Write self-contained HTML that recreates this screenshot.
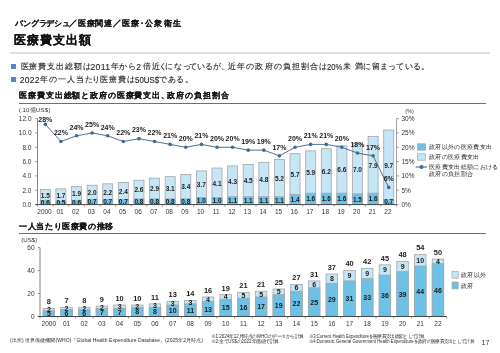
<!DOCTYPE html>
<html lang="ja"><head><meta charset="utf-8">
<style>
html,body{margin:0;padding:0;background:#fff;}
body{width:500px;height:353px;position:relative;overflow:hidden;font-family:"Liberation Sans",sans-serif;color:#222;}
.a{position:absolute;white-space:nowrap;line-height:1;}
svg{position:absolute;left:0;top:0;}
svg text{font-family:"Liberation Sans",sans-serif;fill:#222;}
.ax{font-size:6.5px;fill:#333;}
.bl{font-size:6.5px;font-weight:bold;fill:#1a1a1a;}
.bl2{font-size:7px;font-weight:bold;fill:#1a1a1a;}
.bl3{font-size:7.4px;font-weight:bold;fill:#1a1a1a;}
.pl{font-size:7px;font-weight:bold;fill:#1a1a1a;}
.lg{font-size:6.3px;fill:#1a1a1a;letter-spacing:0.34px;}
.fn{font-size:4.2px;fill:#444;}
</style></head><body><div id="wrap" style="position:absolute;left:0;top:0;width:500px;height:353px;will-change:transform;background:#fff;">
<div class="a" style="left:15.2px;top:20.3px;font-size:8px;letter-spacing:-0.2px;font-weight:bold;-webkit-text-stroke:0.05px #111;color:#111;">バングラデシュ</div>
<div class="a" style="left:78px;top:20.3px;font-size:8px;letter-spacing:0.5px;font-weight:bold;-webkit-text-stroke:0.05px #111;color:#111;">医療関連</div>
<div class="a" style="left:122.4px;top:20.3px;font-size:8px;letter-spacing:0.8px;font-weight:bold;-webkit-text-stroke:0.05px #111;color:#111;">医療</div>
<div class="a" style="left:137.6px;top:20.3px;font-size:8px;font-weight:bold;-webkit-text-stroke:0.05px #111;color:#111;">・</div>
<div class="a" style="left:144.8px;top:20.3px;font-size:8px;letter-spacing:1.4px;font-weight:bold;-webkit-text-stroke:0.05px #111;color:#111;">公衆衛生</div>
<div class="a" style="left:14.4px;top:34.2px;font-size:12.4px;letter-spacing:0.9px;font-weight:bold;-webkit-text-stroke:0.1px #111;color:#111;">医療費支出額</div>
<div class="a" style="left:10px;top:52px;width:480px;height:1.5px;background:#e0e0e0;"></div>
<div class="a" style="left:11px;top:64.3px;width:5px;height:5px;background:#5486ca;"></div>
<div class="a" style="left:11px;top:77px;width:5px;height:5px;background:#5486ca;"></div>
<div class="a" style="left:20.6px;top:61.6px;font-size:8.4px;letter-spacing:0.9px;color:#222;-webkit-text-stroke:0.1px #222;">医療費支出総額は</div>
<div class="a" style="left:110.6px;top:61.6px;font-size:8.4px;letter-spacing:0.9px;color:#222;-webkit-text-stroke:0.1px #222;">年から</div>
<div class="a" style="left:142.6px;top:61.6px;font-size:8.4px;letter-spacing:1.6px;color:#222;-webkit-text-stroke:0.1px #222;">倍近</div>
<div class="a" style="left:159.2px;top:61.6px;font-size:8.4px;color:#222;-webkit-text-stroke:0.1px #222;">く</div>
<div class="a" style="left:165px;top:61.6px;font-size:8.4px;letter-spacing:0.8px;color:#222;-webkit-text-stroke:0.1px #222;">になっ</div>
<div class="a" style="left:189.2px;top:61.6px;font-size:8.4px;letter-spacing:-0.2px;color:#222;-webkit-text-stroke:0.1px #222;">ているが</div>
<div class="a" style="left:221.2px;top:61.6px;font-size:8.4px;color:#222;-webkit-text-stroke:0.1px #222;">、</div>
<div class="a" style="left:228.2px;top:61.6px;font-size:8.4px;letter-spacing:1.1px;color:#222;-webkit-text-stroke:0.1px #222;">近年の政府の負担割合は</div>
<div class="a" style="left:343.4px;top:61.6px;font-size:8.4px;color:#222;-webkit-text-stroke:0.1px #222;">未</div>
<div class="a" style="left:354.6px;top:61.6px;font-size:8.4px;letter-spacing:0.7px;color:#222;-webkit-text-stroke:0.1px #222;">満に留</div>
<div class="a" style="left:380px;top:61.6px;font-size:8.4px;letter-spacing:0.2px;color:#222;-webkit-text-stroke:0.1px #222;">まっている</div>
<div class="a" style="left:420.6px;top:61.6px;font-size:8.4px;color:#222;-webkit-text-stroke:0.1px #222;">。</div>
<div class="a" style="left:90.4px;top:62.9px;font-size:8.6px;letter-spacing:0.4px;color:#222;-webkit-text-stroke:0.1px #222;">2011</div>
<div class="a" style="left:136.3px;top:62.9px;font-size:8.6px;color:#222;-webkit-text-stroke:0.1px #222;">2</div>
<div class="a" style="left:326.6px;top:62.9px;font-size:8.6px;transform:scaleX(0.89);transform-origin:0 0;color:#222;-webkit-text-stroke:0.1px #222;">20%</div>
<div class="a" style="left:40.4px;top:75.30000000000001px;font-size:8.4px;letter-spacing:1px;color:#222;-webkit-text-stroke:0.1px #222;">年の一人当た</div>
<div class="a" style="left:92.4px;top:75.30000000000001px;font-size:8.4px;color:#222;-webkit-text-stroke:0.1px #222;">り</div>
<div class="a" style="left:100.4px;top:75.30000000000001px;font-size:8.4px;letter-spacing:1px;color:#222;-webkit-text-stroke:0.1px #222;">医療費は</div>
<div class="a" style="left:159.2px;top:75.30000000000001px;font-size:8.4px;letter-spacing:0.6px;color:#222;-webkit-text-stroke:0.1px #222;">である</div>
<div class="a" style="left:184.8px;top:75.30000000000001px;font-size:8.4px;color:#222;-webkit-text-stroke:0.1px #222;">。</div>
<div class="a" style="left:19.8px;top:75.9px;font-size:8.6px;letter-spacing:0.2px;color:#222;-webkit-text-stroke:0.1px #222;">2022</div>
<div class="a" style="left:135px;top:75.9px;font-size:8.6px;transform:scaleX(0.92);transform-origin:0 0;color:#222;-webkit-text-stroke:0.1px #222;">50US$</div>
<div class="a" style="left:19.4px;top:91.4px;font-size:8.4px;letter-spacing:0.85px;font-weight:bold;-webkit-text-stroke:0.05px #111;color:#111;">医療費支出総額と政府の医療費支出</div>
<div class="a" style="left:161px;top:91.4px;font-size:8.4px;font-weight:bold;-webkit-text-stroke:0.05px #111;color:#111;">、</div>
<div class="a" style="left:166.6px;top:91.4px;font-size:8.4px;letter-spacing:1px;font-weight:bold;-webkit-text-stroke:0.05px #111;color:#111;">政府の負担割合</div>
<div class="a" style="left:19px;top:102.9px;width:467px;height:1.6px;background:#6e6e6e;"></div>
<div class="a" style="left:19.2px;top:222px;font-size:8.4px;letter-spacing:0.6px;font-weight:bold;-webkit-text-stroke:0.05px #111;color:#111;">一人当たり医療費の推移</div>
<div class="a" style="left:19.2px;top:232.8px;width:467.3px;height:1.6px;background:#6e6e6e;"></div>
<div class="a" style="left:18.8px;top:106.6px;font-size:6.2px;color:#333;">(</div>
<div class="a" style="left:22.4px;top:106.6px;font-size:6.2px;letter-spacing:0.2px;color:#333;">10億US$</div>
<div class="a" style="left:48.4px;top:106.6px;font-size:6.2px;color:#333;">)</div>
<svg width="500" height="353" viewBox="0 0 500 353">
<line x1="37.5" y1="118.6" x2="37.5" y2="204.6" stroke="#777" stroke-width="0.9"/>
<line x1="35.3" y1="204.60" x2="37.5" y2="204.60" stroke="#777" stroke-width="0.8"/>
<text x="31.5" y="206.90" class="ax" text-anchor="end">0.0</text>
<line x1="35.3" y1="190.27" x2="37.5" y2="190.27" stroke="#777" stroke-width="0.8"/>
<text x="31.5" y="192.57" class="ax" text-anchor="end">2.0</text>
<line x1="35.3" y1="175.93" x2="37.5" y2="175.93" stroke="#777" stroke-width="0.8"/>
<text x="31.5" y="178.23" class="ax" text-anchor="end">4.0</text>
<line x1="35.3" y1="161.60" x2="37.5" y2="161.60" stroke="#777" stroke-width="0.8"/>
<text x="31.5" y="163.90" class="ax" text-anchor="end">6.0</text>
<line x1="35.3" y1="147.27" x2="37.5" y2="147.27" stroke="#777" stroke-width="0.8"/>
<text x="31.5" y="149.57" class="ax" text-anchor="end">8.0</text>
<line x1="35.3" y1="132.93" x2="37.5" y2="132.93" stroke="#777" stroke-width="0.8"/>
<text x="31.5" y="135.23" class="ax" text-anchor="end">10.0</text>
<line x1="35.3" y1="118.60" x2="37.5" y2="118.60" stroke="#777" stroke-width="0.8"/>
<text x="31.5" y="120.90" class="ax" text-anchor="end">12.0</text>
<line x1="396.5" y1="118.6" x2="396.5" y2="204.6" stroke="#999" stroke-width="0.9"/>
<line x1="396.5" y1="204.60" x2="398.7" y2="204.60" stroke="#777" stroke-width="0.8"/>
<text x="401.5" y="206.90" class="ax">0%</text>
<line x1="396.5" y1="190.27" x2="398.7" y2="190.27" stroke="#777" stroke-width="0.8"/>
<text x="401.5" y="192.57" class="ax">5%</text>
<line x1="396.5" y1="175.93" x2="398.7" y2="175.93" stroke="#777" stroke-width="0.8"/>
<text x="401.5" y="178.23" class="ax">10%</text>
<line x1="396.5" y1="161.60" x2="398.7" y2="161.60" stroke="#777" stroke-width="0.8"/>
<text x="401.5" y="163.90" class="ax">15%</text>
<line x1="396.5" y1="147.27" x2="398.7" y2="147.27" stroke="#777" stroke-width="0.8"/>
<text x="401.5" y="149.57" class="ax">20%</text>
<line x1="396.5" y1="132.93" x2="398.7" y2="132.93" stroke="#777" stroke-width="0.8"/>
<text x="401.5" y="135.23" class="ax">25%</text>
<line x1="396.5" y1="118.60" x2="398.7" y2="118.60" stroke="#777" stroke-width="0.8"/>
<text x="401.5" y="120.90" class="ax">30%</text>
<text x="405.2" y="112.8" class="ax" style="font-size:5.5px">(%)</text>
<rect x="40.30" y="189.55" width="10" height="15.05" fill="#c6e6f5" stroke="#a6a6a6" stroke-width="0.8"/>
<rect x="40.30" y="200.30" width="10" height="4.30" fill="#6cc2e6" stroke="#a6a6a6" stroke-width="0.8"/>
<text x="45.30" y="197.72" class="bl" text-anchor="middle">1.5</text>
<text x="45.30" y="204.75" class="bl" text-anchor="middle">0.6</text>
<text x="44.50" y="213.6" class="ax" text-anchor="middle">2000</text>
<rect x="55.91" y="188.83" width="10" height="15.77" fill="#c6e6f5" stroke="#a6a6a6" stroke-width="0.8"/>
<rect x="55.91" y="201.02" width="10" height="3.58" fill="#6cc2e6" stroke="#a6a6a6" stroke-width="0.8"/>
<text x="60.91" y="197.72" class="bl" text-anchor="middle">1.7</text>
<text x="60.91" y="205.11" class="bl" text-anchor="middle">0.5</text>
<text x="60.11" y="213.6" class="ax" text-anchor="middle">01</text>
<rect x="71.52" y="186.68" width="10" height="17.92" fill="#c6e6f5" stroke="#a6a6a6" stroke-width="0.8"/>
<rect x="71.52" y="200.30" width="10" height="4.30" fill="#6cc2e6" stroke="#a6a6a6" stroke-width="0.8"/>
<text x="76.52" y="196.29" class="bl" text-anchor="middle">1.9</text>
<text x="76.52" y="204.75" class="bl" text-anchor="middle">0.6</text>
<text x="75.72" y="213.6" class="ax" text-anchor="middle">02</text>
<rect x="87.13" y="185.25" width="10" height="19.35" fill="#c6e6f5" stroke="#a6a6a6" stroke-width="0.8"/>
<rect x="87.13" y="199.58" width="10" height="5.02" fill="#6cc2e6" stroke="#a6a6a6" stroke-width="0.8"/>
<text x="92.13" y="195.22" class="bl" text-anchor="middle">2.0</text>
<text x="92.13" y="204.39" class="bl" text-anchor="middle">0.7</text>
<text x="91.33" y="213.6" class="ax" text-anchor="middle">03</text>
<rect x="102.74" y="183.82" width="10" height="20.78" fill="#c6e6f5" stroke="#a6a6a6" stroke-width="0.8"/>
<rect x="102.74" y="199.58" width="10" height="5.02" fill="#6cc2e6" stroke="#a6a6a6" stroke-width="0.8"/>
<text x="107.74" y="194.50" class="bl" text-anchor="middle">2.2</text>
<text x="107.74" y="204.39" class="bl" text-anchor="middle">0.7</text>
<text x="106.94" y="213.6" class="ax" text-anchor="middle">04</text>
<rect x="118.35" y="182.38" width="10" height="22.22" fill="#c6e6f5" stroke="#a6a6a6" stroke-width="0.8"/>
<rect x="118.35" y="199.58" width="10" height="5.02" fill="#6cc2e6" stroke="#a6a6a6" stroke-width="0.8"/>
<text x="123.35" y="193.78" class="bl" text-anchor="middle">2.4</text>
<text x="123.35" y="204.39" class="bl" text-anchor="middle">0.7</text>
<text x="122.55" y="213.6" class="ax" text-anchor="middle">05</text>
<rect x="133.96" y="180.23" width="10" height="24.37" fill="#c6e6f5" stroke="#a6a6a6" stroke-width="0.8"/>
<rect x="133.96" y="198.87" width="10" height="5.73" fill="#6cc2e6" stroke="#a6a6a6" stroke-width="0.8"/>
<text x="138.96" y="192.35" class="bl" text-anchor="middle">2.6</text>
<text x="138.96" y="204.03" class="bl" text-anchor="middle">0.8</text>
<text x="138.16" y="213.6" class="ax" text-anchor="middle">06</text>
<rect x="149.57" y="178.08" width="10" height="26.52" fill="#c6e6f5" stroke="#a6a6a6" stroke-width="0.8"/>
<rect x="149.57" y="198.87" width="10" height="5.73" fill="#6cc2e6" stroke="#a6a6a6" stroke-width="0.8"/>
<text x="154.57" y="191.28" class="bl" text-anchor="middle">2.9</text>
<text x="154.57" y="204.03" class="bl" text-anchor="middle">0.8</text>
<text x="153.77" y="213.6" class="ax" text-anchor="middle">07</text>
<rect x="165.17" y="176.65" width="10" height="27.95" fill="#c6e6f5" stroke="#a6a6a6" stroke-width="0.8"/>
<rect x="165.17" y="198.87" width="10" height="5.73" fill="#6cc2e6" stroke="#a6a6a6" stroke-width="0.8"/>
<text x="170.17" y="190.56" class="bl" text-anchor="middle">3.1</text>
<text x="170.17" y="204.03" class="bl" text-anchor="middle">0.8</text>
<text x="169.37" y="213.6" class="ax" text-anchor="middle">08</text>
<rect x="180.78" y="174.50" width="10" height="30.10" fill="#c6e6f5" stroke="#a6a6a6" stroke-width="0.8"/>
<rect x="180.78" y="198.87" width="10" height="5.73" fill="#6cc2e6" stroke="#a6a6a6" stroke-width="0.8"/>
<text x="185.78" y="189.48" class="bl" text-anchor="middle">3.4</text>
<text x="185.78" y="204.03" class="bl" text-anchor="middle">0.8</text>
<text x="184.98" y="213.6" class="ax" text-anchor="middle">09</text>
<rect x="196.39" y="170.92" width="10" height="33.68" fill="#c6e6f5" stroke="#a6a6a6" stroke-width="0.8"/>
<rect x="196.39" y="197.43" width="10" height="7.17" fill="#6cc2e6" stroke="#a6a6a6" stroke-width="0.8"/>
<text x="201.39" y="186.98" class="bl" text-anchor="middle">3.7</text>
<text x="201.39" y="203.32" class="bl" text-anchor="middle">1.0</text>
<text x="200.59" y="213.6" class="ax" text-anchor="middle">10</text>
<rect x="212.00" y="168.05" width="10" height="36.55" fill="#c6e6f5" stroke="#a6a6a6" stroke-width="0.8"/>
<rect x="212.00" y="197.43" width="10" height="7.17" fill="#6cc2e6" stroke="#a6a6a6" stroke-width="0.8"/>
<text x="217.00" y="185.54" class="bl" text-anchor="middle">4.1</text>
<text x="217.00" y="203.32" class="bl" text-anchor="middle">1.0</text>
<text x="216.20" y="213.6" class="ax" text-anchor="middle">11</text>
<rect x="227.61" y="165.90" width="10" height="38.70" fill="#c6e6f5" stroke="#a6a6a6" stroke-width="0.8"/>
<rect x="227.61" y="196.72" width="10" height="7.88" fill="#6cc2e6" stroke="#a6a6a6" stroke-width="0.8"/>
<text x="232.61" y="184.11" class="bl" text-anchor="middle">4.3</text>
<text x="232.61" y="202.96" class="bl" text-anchor="middle">1.1</text>
<text x="231.81" y="213.6" class="ax" text-anchor="middle">12</text>
<rect x="243.22" y="164.47" width="10" height="40.13" fill="#c6e6f5" stroke="#a6a6a6" stroke-width="0.8"/>
<rect x="243.22" y="196.72" width="10" height="7.88" fill="#6cc2e6" stroke="#a6a6a6" stroke-width="0.8"/>
<text x="248.22" y="183.39" class="bl" text-anchor="middle">4.5</text>
<text x="248.22" y="202.96" class="bl" text-anchor="middle">1.1</text>
<text x="247.42" y="213.6" class="ax" text-anchor="middle">13</text>
<rect x="258.83" y="162.32" width="10" height="42.28" fill="#c6e6f5" stroke="#a6a6a6" stroke-width="0.8"/>
<rect x="258.83" y="196.72" width="10" height="7.88" fill="#6cc2e6" stroke="#a6a6a6" stroke-width="0.8"/>
<text x="263.83" y="182.32" class="bl" text-anchor="middle">4.8</text>
<text x="263.83" y="202.96" class="bl" text-anchor="middle">1.1</text>
<text x="263.03" y="213.6" class="ax" text-anchor="middle">14</text>
<rect x="274.43" y="159.45" width="10" height="45.15" fill="#c6e6f5" stroke="#a6a6a6" stroke-width="0.8"/>
<rect x="274.43" y="196.72" width="10" height="7.88" fill="#6cc2e6" stroke="#a6a6a6" stroke-width="0.8"/>
<text x="279.43" y="180.88" class="bl" text-anchor="middle">5.2</text>
<text x="279.43" y="202.96" class="bl" text-anchor="middle">1.1</text>
<text x="278.63" y="213.6" class="ax" text-anchor="middle">15</text>
<rect x="290.04" y="153.72" width="10" height="50.88" fill="#c6e6f5" stroke="#a6a6a6" stroke-width="0.8"/>
<rect x="290.04" y="194.57" width="10" height="10.03" fill="#6cc2e6" stroke="#a6a6a6" stroke-width="0.8"/>
<text x="295.04" y="176.94" class="bl" text-anchor="middle">5.7</text>
<text x="295.04" y="201.88" class="bl" text-anchor="middle">1.4</text>
<text x="294.24" y="213.6" class="ax" text-anchor="middle">16</text>
<rect x="305.65" y="150.85" width="10" height="53.75" fill="#c6e6f5" stroke="#a6a6a6" stroke-width="0.8"/>
<rect x="305.65" y="193.13" width="10" height="11.47" fill="#6cc2e6" stroke="#a6a6a6" stroke-width="0.8"/>
<text x="310.65" y="174.79" class="bl" text-anchor="middle">5.9</text>
<text x="310.65" y="201.17" class="bl" text-anchor="middle">1.6</text>
<text x="309.85" y="213.6" class="ax" text-anchor="middle">17</text>
<rect x="321.26" y="148.70" width="10" height="55.90" fill="#c6e6f5" stroke="#a6a6a6" stroke-width="0.8"/>
<rect x="321.26" y="193.13" width="10" height="11.47" fill="#6cc2e6" stroke="#a6a6a6" stroke-width="0.8"/>
<text x="326.26" y="173.72" class="bl" text-anchor="middle">6.2</text>
<text x="326.26" y="201.17" class="bl" text-anchor="middle">1.6</text>
<text x="325.46" y="213.6" class="ax" text-anchor="middle">18</text>
<rect x="336.87" y="145.83" width="10" height="58.77" fill="#c6e6f5" stroke="#a6a6a6" stroke-width="0.8"/>
<rect x="336.87" y="193.13" width="10" height="11.47" fill="#6cc2e6" stroke="#a6a6a6" stroke-width="0.8"/>
<text x="341.87" y="172.28" class="bl" text-anchor="middle">6.6</text>
<text x="341.87" y="201.17" class="bl" text-anchor="middle">1.6</text>
<text x="341.07" y="213.6" class="ax" text-anchor="middle">19</text>
<rect x="352.48" y="143.68" width="10" height="60.92" fill="#c6e6f5" stroke="#a6a6a6" stroke-width="0.8"/>
<rect x="352.48" y="193.85" width="10" height="10.75" fill="#6cc2e6" stroke="#a6a6a6" stroke-width="0.8"/>
<text x="357.48" y="171.57" class="bl" text-anchor="middle">7.0</text>
<text x="357.48" y="201.53" class="bl" text-anchor="middle">1.5</text>
<text x="356.68" y="213.6" class="ax" text-anchor="middle">20</text>
<rect x="368.09" y="136.52" width="10" height="68.08" fill="#c6e6f5" stroke="#a6a6a6" stroke-width="0.8"/>
<rect x="368.09" y="193.13" width="10" height="11.47" fill="#6cc2e6" stroke="#a6a6a6" stroke-width="0.8"/>
<text x="373.09" y="167.62" class="bl" text-anchor="middle">7.9</text>
<text x="373.09" y="201.17" class="bl" text-anchor="middle">1.6</text>
<text x="372.29" y="213.6" class="ax" text-anchor="middle">21</text>
<rect x="383.70" y="130.07" width="10" height="74.53" fill="#c6e6f5" stroke="#a6a6a6" stroke-width="0.8"/>
<rect x="383.70" y="199.58" width="10" height="5.02" fill="#6cc2e6" stroke="#a6a6a6" stroke-width="0.8"/>
<text x="388.70" y="167.62" class="bl" text-anchor="middle">9.7</text>
<text x="388.70" y="204.39" class="bl" text-anchor="middle">0.7</text>
<text x="387.90" y="213.6" class="ax" text-anchor="middle">22</text>
<line x1="35.3" y1="204.6" x2="396.5" y2="204.6" stroke="#444" stroke-width="1"/>
<line x1="37.50" y1="204.6" x2="37.50" y2="206.6" stroke="#777" stroke-width="0.8"/>
<line x1="53.11" y1="204.6" x2="53.11" y2="206.6" stroke="#777" stroke-width="0.8"/>
<line x1="68.72" y1="204.6" x2="68.72" y2="206.6" stroke="#777" stroke-width="0.8"/>
<line x1="84.33" y1="204.6" x2="84.33" y2="206.6" stroke="#777" stroke-width="0.8"/>
<line x1="99.93" y1="204.6" x2="99.93" y2="206.6" stroke="#777" stroke-width="0.8"/>
<line x1="115.54" y1="204.6" x2="115.54" y2="206.6" stroke="#777" stroke-width="0.8"/>
<line x1="131.15" y1="204.6" x2="131.15" y2="206.6" stroke="#777" stroke-width="0.8"/>
<line x1="146.76" y1="204.6" x2="146.76" y2="206.6" stroke="#777" stroke-width="0.8"/>
<line x1="162.37" y1="204.6" x2="162.37" y2="206.6" stroke="#777" stroke-width="0.8"/>
<line x1="177.98" y1="204.6" x2="177.98" y2="206.6" stroke="#777" stroke-width="0.8"/>
<line x1="193.59" y1="204.6" x2="193.59" y2="206.6" stroke="#777" stroke-width="0.8"/>
<line x1="209.20" y1="204.6" x2="209.20" y2="206.6" stroke="#777" stroke-width="0.8"/>
<line x1="224.80" y1="204.6" x2="224.80" y2="206.6" stroke="#777" stroke-width="0.8"/>
<line x1="240.41" y1="204.6" x2="240.41" y2="206.6" stroke="#777" stroke-width="0.8"/>
<line x1="256.02" y1="204.6" x2="256.02" y2="206.6" stroke="#777" stroke-width="0.8"/>
<line x1="271.63" y1="204.6" x2="271.63" y2="206.6" stroke="#777" stroke-width="0.8"/>
<line x1="287.24" y1="204.6" x2="287.24" y2="206.6" stroke="#777" stroke-width="0.8"/>
<line x1="302.85" y1="204.6" x2="302.85" y2="206.6" stroke="#777" stroke-width="0.8"/>
<line x1="318.46" y1="204.6" x2="318.46" y2="206.6" stroke="#777" stroke-width="0.8"/>
<line x1="334.07" y1="204.6" x2="334.07" y2="206.6" stroke="#777" stroke-width="0.8"/>
<line x1="349.67" y1="204.6" x2="349.67" y2="206.6" stroke="#777" stroke-width="0.8"/>
<line x1="365.28" y1="204.6" x2="365.28" y2="206.6" stroke="#777" stroke-width="0.8"/>
<line x1="380.89" y1="204.6" x2="380.89" y2="206.6" stroke="#777" stroke-width="0.8"/>
<line x1="396.50" y1="204.6" x2="396.50" y2="206.6" stroke="#777" stroke-width="0.8"/>
<polyline points="45.30,124.33 60.91,141.53 76.52,135.80 92.13,132.93 107.74,135.80 123.35,141.53 138.96,138.67 154.57,141.53 170.17,144.40 185.78,147.27 201.39,144.40 217.00,147.27 232.61,147.27 248.22,150.13 263.83,150.13 279.43,155.87 295.04,147.27 310.65,144.40 326.26,144.40 341.87,147.27 357.48,153.00 373.09,155.87 388.70,187.40" fill="none" stroke="#3f6a92" stroke-width="0.95"/>
<circle cx="45.30" cy="124.33" r="1.8" fill="#3f6a92"/>
<text x="45.30" y="122.00" class="pl" text-anchor="middle">28%</text>
<circle cx="60.91" cy="141.53" r="1.8" fill="#3f6a92"/>
<text x="60.91" y="135.23" class="pl" text-anchor="middle">22%</text>
<circle cx="76.52" cy="135.80" r="1.8" fill="#3f6a92"/>
<text x="76.52" y="129.50" class="pl" text-anchor="middle">24%</text>
<circle cx="92.13" cy="132.93" r="1.8" fill="#3f6a92"/>
<text x="92.13" y="126.63" class="pl" text-anchor="middle">25%</text>
<circle cx="107.74" cy="135.80" r="1.8" fill="#3f6a92"/>
<text x="107.74" y="129.50" class="pl" text-anchor="middle">24%</text>
<circle cx="123.35" cy="141.53" r="1.8" fill="#3f6a92"/>
<text x="123.35" y="135.23" class="pl" text-anchor="middle">22%</text>
<circle cx="138.96" cy="138.67" r="1.8" fill="#3f6a92"/>
<text x="138.96" y="132.37" class="pl" text-anchor="middle">23%</text>
<circle cx="154.57" cy="141.53" r="1.8" fill="#3f6a92"/>
<text x="154.57" y="135.23" class="pl" text-anchor="middle">22%</text>
<circle cx="170.17" cy="144.40" r="1.8" fill="#3f6a92"/>
<text x="170.17" y="138.10" class="pl" text-anchor="middle">21%</text>
<circle cx="185.78" cy="147.27" r="1.8" fill="#3f6a92"/>
<text x="185.78" y="140.97" class="pl" text-anchor="middle">20%</text>
<circle cx="201.39" cy="144.40" r="1.8" fill="#3f6a92"/>
<text x="201.39" y="138.10" class="pl" text-anchor="middle">21%</text>
<circle cx="217.00" cy="147.27" r="1.8" fill="#3f6a92"/>
<text x="217.00" y="140.97" class="pl" text-anchor="middle">20%</text>
<circle cx="232.61" cy="147.27" r="1.8" fill="#3f6a92"/>
<text x="232.61" y="140.97" class="pl" text-anchor="middle">20%</text>
<circle cx="248.22" cy="150.13" r="1.8" fill="#3f6a92"/>
<text x="248.22" y="143.83" class="pl" text-anchor="middle">19%</text>
<circle cx="263.83" cy="150.13" r="1.8" fill="#3f6a92"/>
<text x="263.83" y="143.83" class="pl" text-anchor="middle">19%</text>
<circle cx="279.43" cy="155.87" r="1.8" fill="#3f6a92"/>
<text x="279.43" y="149.57" class="pl" text-anchor="middle">17%</text>
<circle cx="295.04" cy="147.27" r="1.8" fill="#3f6a92"/>
<text x="295.04" y="140.97" class="pl" text-anchor="middle">20%</text>
<circle cx="310.65" cy="144.40" r="1.8" fill="#3f6a92"/>
<text x="310.65" y="138.10" class="pl" text-anchor="middle">21%</text>
<circle cx="326.26" cy="144.40" r="1.8" fill="#3f6a92"/>
<text x="326.26" y="138.10" class="pl" text-anchor="middle">21%</text>
<circle cx="341.87" cy="147.27" r="1.8" fill="#3f6a92"/>
<text x="341.87" y="140.97" class="pl" text-anchor="middle">20%</text>
<circle cx="357.48" cy="153.00" r="1.8" fill="#3f6a92"/>
<text x="357.48" y="146.70" class="pl" text-anchor="middle">18%</text>
<circle cx="373.09" cy="155.87" r="1.8" fill="#3f6a92"/>
<text x="373.09" y="149.57" class="pl" text-anchor="middle">17%</text>
<circle cx="388.70" cy="187.40" r="1.8" fill="#3f6a92"/>
<text x="388.70" y="181.10" class="pl" text-anchor="middle">6%</text>
<rect x="417.5" y="143.8" width="8" height="6.4" fill="#6cc2e6" stroke="#a6a6a6" stroke-width="0.7"/>
<rect x="417.5" y="153.8" width="8" height="6.4" fill="#c6e6f5" stroke="#a6a6a6" stroke-width="0.7"/>
<line x1="415.6" y1="167" x2="427" y2="167" stroke="#3f6a92" stroke-width="1.1"/>
<circle cx="421.5" cy="167" r="2" fill="#3f6a92"/>
<text x="429" y="149.3" class="lg">政府以外の医療費支出</text>
<text x="429" y="159.3" class="lg">政府の医療費支出</text>
<text x="429" y="169.3" class="lg">医療費支出総額における</text>
<text x="429" y="176.3" class="lg">政府の負担割合</text>
<line x1="40.0" y1="247.6" x2="40.0" y2="316.5" stroke="#777" stroke-width="0.9"/>
<line x1="37.8" y1="316.50" x2="40.0" y2="316.50" stroke="#777" stroke-width="0.8"/>
<text x="34.5" y="318.80" class="ax" text-anchor="end">0</text>
<line x1="37.8" y1="293.53" x2="40.0" y2="293.53" stroke="#777" stroke-width="0.8"/>
<text x="34.5" y="295.83" class="ax" text-anchor="end">20</text>
<line x1="37.8" y1="270.57" x2="40.0" y2="270.57" stroke="#777" stroke-width="0.8"/>
<text x="34.5" y="272.87" class="ax" text-anchor="end">40</text>
<line x1="37.8" y1="247.60" x2="40.0" y2="247.60" stroke="#777" stroke-width="0.8"/>
<text x="34.5" y="249.90" class="ax" text-anchor="end">60</text>
<text x="21.3" y="242.4" class="ax" style="font-size:6.1px">(US$)</text>
<rect x="43.09" y="308.46" width="11.5" height="8.04" fill="#c6e6f5" stroke="#a6a6a6" stroke-width="0.8"/>
<rect x="43.09" y="310.76" width="11.5" height="5.74" fill="#6cc2e6" stroke="#a6a6a6" stroke-width="0.8"/>
<text x="48.84" y="312.11" class="bl2" text-anchor="middle">2</text>
<text x="48.84" y="316.13" class="bl2" text-anchor="middle">5</text>
<text x="48.84" y="304.36" class="bl3" text-anchor="middle">8</text>
<text x="48.84" y="325.5" class="ax" text-anchor="middle">2000</text>
<rect x="60.78" y="307.31" width="11.5" height="9.19" fill="#c6e6f5" stroke="#a6a6a6" stroke-width="0.8"/>
<rect x="60.78" y="309.61" width="11.5" height="6.89" fill="#6cc2e6" stroke="#a6a6a6" stroke-width="0.8"/>
<text x="66.53" y="310.96" class="bl2" text-anchor="middle">2</text>
<text x="66.53" y="315.56" class="bl2" text-anchor="middle">6</text>
<text x="66.53" y="303.21" class="bl3" text-anchor="middle">7</text>
<text x="66.53" y="325.5" class="ax" text-anchor="middle">01</text>
<rect x="78.47" y="307.31" width="11.5" height="9.19" fill="#c6e6f5" stroke="#a6a6a6" stroke-width="0.8"/>
<rect x="78.47" y="309.61" width="11.5" height="6.89" fill="#6cc2e6" stroke="#a6a6a6" stroke-width="0.8"/>
<text x="84.22" y="310.96" class="bl2" text-anchor="middle">2</text>
<text x="84.22" y="315.56" class="bl2" text-anchor="middle">6</text>
<text x="84.22" y="303.21" class="bl3" text-anchor="middle">8</text>
<text x="84.22" y="325.5" class="ax" text-anchor="middle">02</text>
<rect x="96.15" y="306.17" width="11.5" height="10.34" fill="#c6e6f5" stroke="#a6a6a6" stroke-width="0.8"/>
<rect x="96.15" y="308.46" width="11.5" height="8.04" fill="#6cc2e6" stroke="#a6a6a6" stroke-width="0.8"/>
<text x="101.90" y="309.81" class="bl2" text-anchor="middle">2</text>
<text x="101.90" y="314.98" class="bl2" text-anchor="middle">7</text>
<text x="101.90" y="302.06" class="bl3" text-anchor="middle">9</text>
<text x="101.90" y="325.5" class="ax" text-anchor="middle">03</text>
<rect x="113.84" y="305.02" width="11.5" height="11.48" fill="#c6e6f5" stroke="#a6a6a6" stroke-width="0.8"/>
<rect x="113.84" y="308.46" width="11.5" height="8.04" fill="#6cc2e6" stroke="#a6a6a6" stroke-width="0.8"/>
<text x="119.59" y="309.24" class="bl2" text-anchor="middle">3</text>
<text x="119.59" y="314.98" class="bl2" text-anchor="middle">7</text>
<text x="119.59" y="300.92" class="bl3" text-anchor="middle">10</text>
<text x="119.59" y="325.5" class="ax" text-anchor="middle">04</text>
<rect x="131.53" y="305.02" width="11.5" height="11.48" fill="#c6e6f5" stroke="#a6a6a6" stroke-width="0.8"/>
<rect x="131.53" y="307.31" width="11.5" height="9.19" fill="#6cc2e6" stroke="#a6a6a6" stroke-width="0.8"/>
<text x="137.28" y="308.66" class="bl2" text-anchor="middle">2</text>
<text x="137.28" y="314.41" class="bl2" text-anchor="middle">8</text>
<text x="137.28" y="300.92" class="bl3" text-anchor="middle">10</text>
<text x="137.28" y="325.5" class="ax" text-anchor="middle">05</text>
<rect x="149.22" y="303.87" width="11.5" height="12.63" fill="#c6e6f5" stroke="#a6a6a6" stroke-width="0.8"/>
<rect x="149.22" y="307.31" width="11.5" height="9.19" fill="#6cc2e6" stroke="#a6a6a6" stroke-width="0.8"/>
<text x="154.97" y="308.09" class="bl2" text-anchor="middle">3</text>
<text x="154.97" y="314.41" class="bl2" text-anchor="middle">8</text>
<text x="154.97" y="299.77" class="bl3" text-anchor="middle">11</text>
<text x="154.97" y="325.5" class="ax" text-anchor="middle">06</text>
<rect x="166.90" y="301.57" width="11.5" height="14.93" fill="#c6e6f5" stroke="#a6a6a6" stroke-width="0.8"/>
<rect x="166.90" y="305.02" width="11.5" height="11.48" fill="#6cc2e6" stroke="#a6a6a6" stroke-width="0.8"/>
<text x="172.65" y="305.79" class="bl2" text-anchor="middle">3</text>
<text x="172.65" y="313.26" class="bl2" text-anchor="middle">10</text>
<text x="172.65" y="297.47" class="bl3" text-anchor="middle">13</text>
<text x="172.65" y="325.5" class="ax" text-anchor="middle">07</text>
<rect x="184.59" y="300.42" width="11.5" height="16.08" fill="#c6e6f5" stroke="#a6a6a6" stroke-width="0.8"/>
<rect x="184.59" y="303.87" width="11.5" height="12.63" fill="#6cc2e6" stroke="#a6a6a6" stroke-width="0.8"/>
<text x="190.34" y="304.65" class="bl2" text-anchor="middle">3</text>
<text x="190.34" y="312.68" class="bl2" text-anchor="middle">11</text>
<text x="190.34" y="296.32" class="bl3" text-anchor="middle">14</text>
<text x="190.34" y="325.5" class="ax" text-anchor="middle">08</text>
<rect x="202.28" y="296.98" width="11.5" height="19.52" fill="#c6e6f5" stroke="#a6a6a6" stroke-width="0.8"/>
<rect x="202.28" y="301.57" width="11.5" height="14.93" fill="#6cc2e6" stroke="#a6a6a6" stroke-width="0.8"/>
<text x="208.03" y="301.77" class="bl2" text-anchor="middle">4</text>
<text x="208.03" y="311.54" class="bl2" text-anchor="middle">13</text>
<text x="208.03" y="292.88" class="bl3" text-anchor="middle">16</text>
<text x="208.03" y="325.5" class="ax" text-anchor="middle">09</text>
<rect x="219.96" y="294.68" width="11.5" height="21.82" fill="#c6e6f5" stroke="#a6a6a6" stroke-width="0.8"/>
<rect x="219.96" y="299.27" width="11.5" height="17.23" fill="#6cc2e6" stroke="#a6a6a6" stroke-width="0.8"/>
<text x="225.71" y="299.48" class="bl2" text-anchor="middle">4</text>
<text x="225.71" y="310.39" class="bl2" text-anchor="middle">15</text>
<text x="225.71" y="290.58" class="bl3" text-anchor="middle">19</text>
<text x="225.71" y="325.5" class="ax" text-anchor="middle">10</text>
<rect x="237.65" y="292.38" width="11.5" height="24.12" fill="#c6e6f5" stroke="#a6a6a6" stroke-width="0.8"/>
<rect x="237.65" y="298.13" width="11.5" height="18.37" fill="#6cc2e6" stroke="#a6a6a6" stroke-width="0.8"/>
<text x="243.40" y="297.76" class="bl2" text-anchor="middle">5</text>
<text x="243.40" y="309.81" class="bl2" text-anchor="middle">16</text>
<text x="243.40" y="288.28" class="bl3" text-anchor="middle">21</text>
<text x="243.40" y="325.5" class="ax" text-anchor="middle">11</text>
<rect x="255.34" y="291.24" width="11.5" height="25.26" fill="#c6e6f5" stroke="#a6a6a6" stroke-width="0.8"/>
<rect x="255.34" y="296.98" width="11.5" height="19.52" fill="#6cc2e6" stroke="#a6a6a6" stroke-width="0.8"/>
<text x="261.09" y="296.61" class="bl2" text-anchor="middle">5</text>
<text x="261.09" y="309.24" class="bl2" text-anchor="middle">17</text>
<text x="261.09" y="287.14" class="bl3" text-anchor="middle">21</text>
<text x="261.09" y="325.5" class="ax" text-anchor="middle">12</text>
<rect x="273.02" y="288.94" width="11.5" height="27.56" fill="#c6e6f5" stroke="#a6a6a6" stroke-width="0.8"/>
<rect x="273.02" y="294.68" width="11.5" height="21.82" fill="#6cc2e6" stroke="#a6a6a6" stroke-width="0.8"/>
<text x="278.77" y="294.31" class="bl2" text-anchor="middle">5</text>
<text x="278.77" y="308.09" class="bl2" text-anchor="middle">19</text>
<text x="278.77" y="284.84" class="bl3" text-anchor="middle">25</text>
<text x="278.77" y="325.5" class="ax" text-anchor="middle">13</text>
<rect x="290.71" y="284.35" width="11.5" height="32.15" fill="#c6e6f5" stroke="#a6a6a6" stroke-width="0.8"/>
<rect x="290.71" y="291.24" width="11.5" height="25.26" fill="#6cc2e6" stroke="#a6a6a6" stroke-width="0.8"/>
<text x="296.46" y="290.29" class="bl2" text-anchor="middle">6</text>
<text x="296.46" y="306.37" class="bl2" text-anchor="middle">22</text>
<text x="296.46" y="280.25" class="bl3" text-anchor="middle">27</text>
<text x="296.46" y="325.5" class="ax" text-anchor="middle">14</text>
<rect x="308.40" y="280.90" width="11.5" height="35.60" fill="#c6e6f5" stroke="#a6a6a6" stroke-width="0.8"/>
<rect x="308.40" y="287.79" width="11.5" height="28.71" fill="#6cc2e6" stroke="#a6a6a6" stroke-width="0.8"/>
<text x="314.15" y="286.85" class="bl2" text-anchor="middle">6</text>
<text x="314.15" y="304.65" class="bl2" text-anchor="middle">25</text>
<text x="314.15" y="276.80" class="bl3" text-anchor="middle">31</text>
<text x="314.15" y="325.5" class="ax" text-anchor="middle">15</text>
<rect x="326.08" y="274.01" width="11.5" height="42.49" fill="#c6e6f5" stroke="#a6a6a6" stroke-width="0.8"/>
<rect x="326.08" y="283.20" width="11.5" height="33.30" fill="#6cc2e6" stroke="#a6a6a6" stroke-width="0.8"/>
<text x="331.83" y="281.11" class="bl2" text-anchor="middle">8</text>
<text x="331.83" y="302.35" class="bl2" text-anchor="middle">29</text>
<text x="331.83" y="269.91" class="bl3" text-anchor="middle">37</text>
<text x="331.83" y="325.5" class="ax" text-anchor="middle">16</text>
<rect x="343.77" y="270.57" width="11.5" height="45.93" fill="#c6e6f5" stroke="#a6a6a6" stroke-width="0.8"/>
<rect x="343.77" y="280.90" width="11.5" height="35.60" fill="#6cc2e6" stroke="#a6a6a6" stroke-width="0.8"/>
<text x="349.52" y="278.23" class="bl2" text-anchor="middle">9</text>
<text x="349.52" y="301.20" class="bl2" text-anchor="middle">31</text>
<text x="349.52" y="266.47" class="bl3" text-anchor="middle">40</text>
<text x="349.52" y="325.5" class="ax" text-anchor="middle">17</text>
<rect x="361.46" y="268.27" width="11.5" height="48.23" fill="#c6e6f5" stroke="#a6a6a6" stroke-width="0.8"/>
<rect x="361.46" y="278.61" width="11.5" height="37.90" fill="#6cc2e6" stroke="#a6a6a6" stroke-width="0.8"/>
<text x="367.21" y="275.94" class="bl2" text-anchor="middle">9</text>
<text x="367.21" y="300.05" class="bl2" text-anchor="middle">33</text>
<text x="367.21" y="264.17" class="bl3" text-anchor="middle">42</text>
<text x="367.21" y="325.5" class="ax" text-anchor="middle">18</text>
<rect x="379.15" y="264.82" width="11.5" height="51.68" fill="#c6e6f5" stroke="#a6a6a6" stroke-width="0.8"/>
<rect x="379.15" y="275.16" width="11.5" height="41.34" fill="#6cc2e6" stroke="#a6a6a6" stroke-width="0.8"/>
<text x="384.90" y="272.49" class="bl2" text-anchor="middle">9</text>
<text x="384.90" y="298.33" class="bl2" text-anchor="middle">36</text>
<text x="384.90" y="260.72" class="bl3" text-anchor="middle">45</text>
<text x="384.90" y="325.5" class="ax" text-anchor="middle">19</text>
<rect x="396.83" y="261.38" width="11.5" height="55.12" fill="#c6e6f5" stroke="#a6a6a6" stroke-width="0.8"/>
<rect x="396.83" y="271.71" width="11.5" height="44.79" fill="#6cc2e6" stroke="#a6a6a6" stroke-width="0.8"/>
<text x="402.58" y="269.05" class="bl2" text-anchor="middle">9</text>
<text x="402.58" y="296.61" class="bl2" text-anchor="middle">39</text>
<text x="402.58" y="257.28" class="bl3" text-anchor="middle">48</text>
<text x="402.58" y="325.5" class="ax" text-anchor="middle">20</text>
<rect x="414.52" y="254.49" width="11.5" height="62.01" fill="#c6e6f5" stroke="#a6a6a6" stroke-width="0.8"/>
<rect x="414.52" y="265.97" width="11.5" height="50.53" fill="#6cc2e6" stroke="#a6a6a6" stroke-width="0.8"/>
<text x="420.27" y="262.73" class="bl2" text-anchor="middle">10</text>
<text x="420.27" y="293.74" class="bl2" text-anchor="middle">44</text>
<text x="420.27" y="250.39" class="bl3" text-anchor="middle">54</text>
<text x="420.27" y="325.5" class="ax" text-anchor="middle">21</text>
<rect x="432.21" y="259.08" width="11.5" height="57.42" fill="#c6e6f5" stroke="#a6a6a6" stroke-width="0.8"/>
<rect x="432.21" y="263.68" width="11.5" height="52.82" fill="#6cc2e6" stroke="#a6a6a6" stroke-width="0.8"/>
<text x="437.96" y="263.88" class="bl2" text-anchor="middle">4</text>
<text x="437.96" y="292.59" class="bl2" text-anchor="middle">46</text>
<text x="437.96" y="254.98" class="bl3" text-anchor="middle">50</text>
<text x="437.96" y="325.5" class="ax" text-anchor="middle">22</text>
<line x1="37.8" y1="316.5" x2="446.8" y2="316.5" stroke="#444" stroke-width="1"/>
<line x1="40.00" y1="316.5" x2="40.00" y2="318.5" stroke="#777" stroke-width="0.8"/>
<line x1="57.69" y1="316.5" x2="57.69" y2="318.5" stroke="#777" stroke-width="0.8"/>
<line x1="75.37" y1="316.5" x2="75.37" y2="318.5" stroke="#777" stroke-width="0.8"/>
<line x1="93.06" y1="316.5" x2="93.06" y2="318.5" stroke="#777" stroke-width="0.8"/>
<line x1="110.75" y1="316.5" x2="110.75" y2="318.5" stroke="#777" stroke-width="0.8"/>
<line x1="128.43" y1="316.5" x2="128.43" y2="318.5" stroke="#777" stroke-width="0.8"/>
<line x1="146.12" y1="316.5" x2="146.12" y2="318.5" stroke="#777" stroke-width="0.8"/>
<line x1="163.81" y1="316.5" x2="163.81" y2="318.5" stroke="#777" stroke-width="0.8"/>
<line x1="181.50" y1="316.5" x2="181.50" y2="318.5" stroke="#777" stroke-width="0.8"/>
<line x1="199.18" y1="316.5" x2="199.18" y2="318.5" stroke="#777" stroke-width="0.8"/>
<line x1="216.87" y1="316.5" x2="216.87" y2="318.5" stroke="#777" stroke-width="0.8"/>
<line x1="234.56" y1="316.5" x2="234.56" y2="318.5" stroke="#777" stroke-width="0.8"/>
<line x1="252.24" y1="316.5" x2="252.24" y2="318.5" stroke="#777" stroke-width="0.8"/>
<line x1="269.93" y1="316.5" x2="269.93" y2="318.5" stroke="#777" stroke-width="0.8"/>
<line x1="287.62" y1="316.5" x2="287.62" y2="318.5" stroke="#777" stroke-width="0.8"/>
<line x1="305.30" y1="316.5" x2="305.30" y2="318.5" stroke="#777" stroke-width="0.8"/>
<line x1="322.99" y1="316.5" x2="322.99" y2="318.5" stroke="#777" stroke-width="0.8"/>
<line x1="340.68" y1="316.5" x2="340.68" y2="318.5" stroke="#777" stroke-width="0.8"/>
<line x1="358.37" y1="316.5" x2="358.37" y2="318.5" stroke="#777" stroke-width="0.8"/>
<line x1="376.05" y1="316.5" x2="376.05" y2="318.5" stroke="#777" stroke-width="0.8"/>
<line x1="393.74" y1="316.5" x2="393.74" y2="318.5" stroke="#777" stroke-width="0.8"/>
<line x1="411.43" y1="316.5" x2="411.43" y2="318.5" stroke="#777" stroke-width="0.8"/>
<line x1="429.11" y1="316.5" x2="429.11" y2="318.5" stroke="#777" stroke-width="0.8"/>
<line x1="446.80" y1="316.5" x2="446.80" y2="318.5" stroke="#777" stroke-width="0.8"/>
<rect x="452" y="271.3" width="6.2" height="6.9" fill="#c6e6f5" stroke="#a6a6a6" stroke-width="0.7"/>
<rect x="452" y="282" width="6.2" height="6.9" fill="#6cc2e6" stroke="#a6a6a6" stroke-width="0.7"/>
<text x="461" y="276.8" class="lg">政府以外</text>
<text x="461" y="287.5" class="lg">政府</text>
<line x1="69.2" y1="27.2" x2="76.4" y2="19.6" stroke="#111" stroke-width="1.15"/>
<line x1="113.2" y1="27.2" x2="120.4" y2="19.6" stroke="#111" stroke-width="1.15"/>
</svg>
<div class="a" style="left:10px;top:337.9px;font-size:5px;letter-spacing:0.07px;color:#2a2a2a;">(出所) 世界保健機関(WHO)「Global Health Expenditure Database」(2025年2月時点)</div>
<div class="a" style="left:211px;top:333.9px;font-size:9px;color:#2a2a2a;transform:scale(0.5);transform-origin:0 0;">※1:2024年12月時点のWHOのデータから計算</div>
<div class="a" style="left:211px;top:339.2px;font-size:9px;color:#2a2a2a;transform:scale(0.5);transform-origin:0 0;">※2:全てUS$の2022年価値で計算</div>
<div class="a" style="left:309px;top:333.9px;font-size:9px;color:#2a2a2a;transform:scale(0.477,0.5);transform-origin:0 0;">※3:Current Health Expenditureを医療費支出総額として計算</div>
<div class="a" style="left:309px;top:339.2px;font-size:9px;color:#2a2a2a;transform:scale(0.477,0.5);transform-origin:0 0;">※4:Domestic General Government Health Expenditureを政府の医療費支出として計算</div>
<div class="a" style="left:481.6px;top:338.6px;font-size:7px;color:#333;">17</div>
</div></body></html>
